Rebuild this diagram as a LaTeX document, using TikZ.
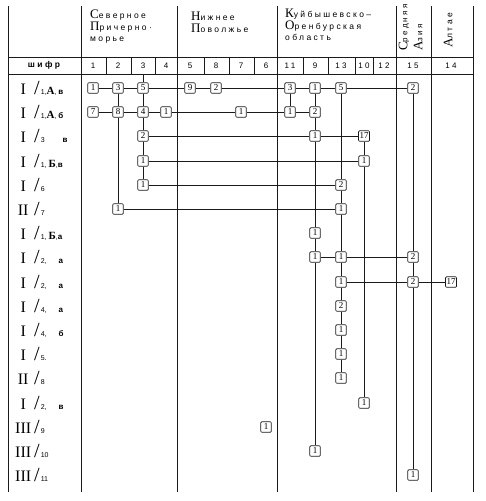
\documentclass[tikz,border=0pt]{standalone}
\usepackage{fontspec}
\setmainfont{Liberation Sans}
\newfontfamily\romfont{Liberation Serif}
\newfontfamily\hdfont[LetterSpace=28]{Liberation Sans}
\usetikzlibrary{positioning}
\definecolor{ink}{HTML}{1A1A1A}

% pieces of the row codes
\newcommand{\initcap}[1]{{\romfont\fontsize{13}{13}\selectfont #1}}
\newcommand{\bk}[1]{{\romfont\bfseries\fontsize{11}{11}\selectfont #1}}
\newcommand{\lc}[1]{{\bfseries\fontsize{8}{8}\selectfont #1}}
\newcommand{\shifr}[2]{\makebox[18pt]{\romfont\fontsize{16}{16}\selectfont #1}\hspace{2pt}{\romfont\fontsize{20}{20}\selectfont /}\hspace{1pt}{\fontsize{7}{7}\selectfont #2}}

\begin{document}
\begin{tikzpicture}[x=1pt, y=-1pt,
  grid/.style={draw=ink, line width=.9pt},
  link/.style={draw=ink, line width=.8pt},
  box/.style={draw=ink, fill=white, line width=.7pt, rounded corners=1pt, minimum width=10.5pt, minimum height=10.5pt, inner sep=1pt, font=\romfont\fontsize{9}{9}\selectfont},
  hd/.style={font=\hdfont\fontsize{8.5}{11.5}\selectfont, align=left, inner sep=0pt},
  num/.style={font=\hdfont\fontsize{8}{8}\selectfont, inner sep=0pt},
  lbl/.style={anchor=west, inner sep=0pt}
]
\useasboundingbox (0,0) rectangle (486,501);

% table frame
\foreach \x in {8,81,177,277,396,431,473}
  \draw[grid] (\x,6) -- (\x,492);
\draw[grid] (8,57) -- (473,57);
\draw[grid] (8,74) -- (473,74);
\foreach \x in {106,131,155,204,229,254,303,328,355,373}
  \draw[grid] (\x,57) -- (\x,74);

% region headers
\node[hd, anchor=north west] (sev) at (90,10) {\initcap{С}еверное\\\initcap{П}ричерно·\\морье};
\node[hd, anchor=north west] (niz) at (191,12) {\initcap{Н}ижнее\\\initcap{П}оволжье};
\node[hd, anchor=north west] (kuj) at (285,9) {\initcap{К}уйбышевско–\\\initcap{О}ренбурская\\область};
\node[hd, rotate=90, anchor=west, font=\hdfont\fontsize{8}{8}\selectfont] (sred) at (404,51) {\initcap{С}редняя};
\node[hd, rotate=90, anchor=west, font=\hdfont\fontsize{8}{8}\selectfont] (azia) at (418,51) {\initcap{А}зия};
\node[hd, rotate=90, anchor=west] (alt) at (448,48) {\initcap{А}лтае};

\node[num, font=\hdfont\bfseries\fontsize{8.5}{8.5}\selectfont] (shifr) at (44,65.5) {шифр};
\foreach \x/\t in {93/1,118/2,143/3,166/4,190/5,216/8,241/7,266/6,290/11,315/9,341/13,364/10,384/12,413/15,451/14}
  \node[num] (h\t) at (\x,65.5) {\t};
\coordinate (top3) at (143,74);

% row codes
\node[lbl] (s1) at (14,88) {\shifr{I}{1,\bk{А}, \lc{в}}};
\node[lbl] (s2) at (14,112) {\shifr{I}{1,\bk{А}, \lc{б}}};
\node[lbl] (s3) at (14,136) {\shifr{I}{3\hspace{18pt}\lc{в}}};
\node[lbl] (s4) at (14,161) {\shifr{I}{1, \bk{Б},\lc{в}}};
\node[lbl] (s5) at (14,185) {\shifr{I}{6}};
\node[lbl] (s6) at (14,209) {\shifr{II}{7}};
\node[lbl] (s7) at (14,233) {\shifr{I}{1,\ \bk{Б},\lc{а}}};
\node[lbl] (s8) at (14,257) {\shifr{I}{2,\hspace{12pt}\lc{а}}};
\node[lbl] (s9) at (14,282) {\shifr{I}{2,\hspace{12pt}\lc{а}}};
\node[lbl] (s10) at (14,306) {\shifr{I}{4,\hspace{12pt}\lc{а}}};
\node[lbl] (s11) at (14,330) {\shifr{I}{4,\hspace{12pt}\lc{б}}};
\node[lbl] (s12) at (14,354) {\shifr{I}{5.}};
\node[lbl] (s13) at (14,378) {\shifr{II}{8}};
\node[lbl] (s14) at (14,403) {\shifr{I}{2,\hspace{12pt}\lc{в}}};
\node[lbl] (s15) at (14,427) {\shifr{III}{9}};
\node[lbl] (s16) at (14,451) {\shifr{III}{10}};
\node[lbl] (s17) at (14,475) {\shifr{III}{11}};

% boxes, named r<row>c<column>
\foreach \c/\x/\t in {1/93/1,2/118/3,3/143/5,5/190/9,8/216/2,11/290/3,9/315/1,13/341/5,15/413/2}
  \node[box] (r1c\c) at (\x,88) {\t};
\foreach \c/\x/\t in {1/93/7,2/118/8,3/143/4,4/166/1,7/241/1,11/290/1,9/315/2}
  \node[box] (r2c\c) at (\x,112) {\t};
\foreach \c/\x/\t in {3/143/2,9/315/1,10/364/17}
  \node[box] (r3c\c) at (\x,136) {\t};
\foreach \c/\x/\t in {3/143/1,10/364/1}
  \node[box] (r4c\c) at (\x,161) {\t};
\foreach \c/\x/\t in {3/143/1,13/341/2}
  \node[box] (r5c\c) at (\x,185) {\t};
\foreach \c/\x/\t in {2/118/1,13/341/1}
  \node[box] (r6c\c) at (\x,209) {\t};
\node[box] (r7c9) at (315,233) {1};
\foreach \c/\x/\t in {9/315/1,13/341/1,15/413/2}
  \node[box] (r8c\c) at (\x,257) {\t};
\foreach \c/\x/\t in {13/341/1,15/413/2,14/451/17}
  \node[box] (r9c\c) at (\x,282) {\t};
\node[box] (r10c13) at (341,306) {2};
\node[box] (r11c13) at (341,330) {1};
\node[box] (r12c13) at (341,354) {1};
\node[box] (r13c13) at (341,378) {1};
\node[box] (r14c10) at (364,403) {1};
\node[box] (r15c6) at (266,427) {1};
\node[box] (r16c9) at (315,451) {1};
\node[box] (r17c15) at (413,475) {1};

% horizontal links
\draw[link] (r1c1) -- (r1c2) -- (r1c3) -- (r1c5) -- (r1c8) -- (r1c11) -- (r1c9) -- (r1c13) -- (r1c15);
\draw[link] (r2c1) -- (r2c2) -- (r2c3) -- (r2c4) -- (r2c7) -- (r2c11) -- (r2c9);
\draw[link] (r3c3) -- (r3c9) -- (r3c10);
\draw[link] (r4c3) -- (r4c10);
\draw[link] (r5c3) -- (r5c13);
\draw[link] (r6c2) -- (r6c13);
\draw[link] (r8c9) -- (r8c13) -- (r8c15);
\draw[link] (r9c13) -- (r9c15) -- (r9c14);

% vertical links
\draw[link] (top3) -- (r1c3) -- (r2c3) -- (r3c3) -- (r4c3) -- (r5c3);
\draw[link] (r1c2) -- (r2c2) -- (r6c2);
\draw[link] (r1c11) -- (r2c11);
\draw[link] (r1c9) -- (r2c9) -- (r3c9) -- (r7c9) -- (r8c9) -- (r16c9);
\draw[link] (r1c13) -- (r5c13) -- (r6c13) -- (r8c13) -- (r9c13) -- (r10c13) -- (r11c13) -- (r12c13) -- (r13c13);
\draw[link] (r3c10) -- (r4c10) -- (r14c10);
\draw[link] (r1c15) -- (r8c15) -- (r9c15) -- (r17c15);
\end{tikzpicture}
\end{document}
